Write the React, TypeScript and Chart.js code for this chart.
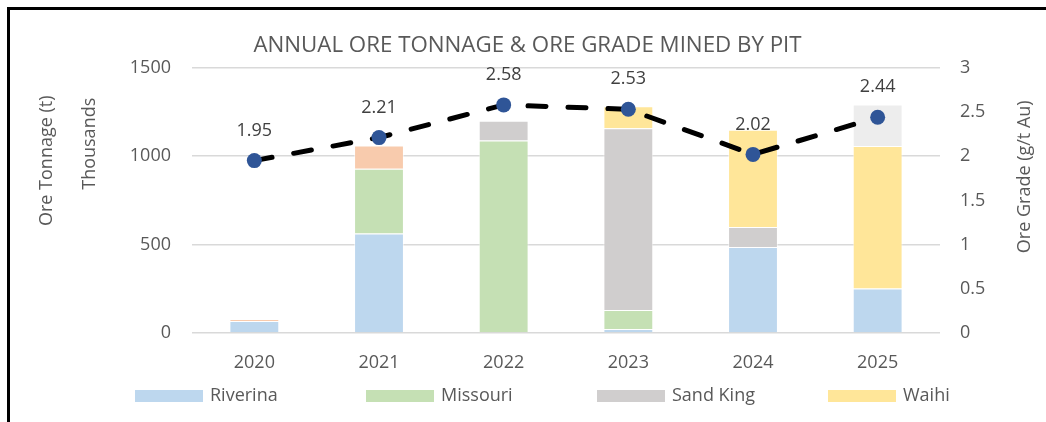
import React, { useEffect, useRef } from "react";
import { Chart, registerables } from "chart.js";
Chart.register(...registerables);

const years = ["2020", "2021", "2022", "2023", "2024", "2025"];
const riverina = [68, 562, 0, 22, 487, 252];
const missouri = [0, 367, 1088, 108, 0, 0];
const sandKing = [0, 0, 113, 1028, 113, 0];
const waihi = [0, 0, 0, 124, 549, 805];
const otherA = [11, 131, 0, 0, 0, 0];
const otherB = [0, 0, 0, 0, 0, 235];
const oreGrade = [1.95, 2.21, 2.58, 2.53, 2.02, 2.44];
const legendNames = ["Riverina", "Missouri", "Sand King", "Waihi"];
const titleText = "ANNUAL ORE TONNAGE & ORE GRADE MINED BY PIT";
const leftTitle = "Ore Tonnage (t)";
const leftUnit = "Thousands";
const rightTitle = "Ore Grade (g/t Au)";

const FONT = "'Open Sans', sans-serif";
const TXT = "#595959";

const gradeLabels = {
  id: "gradeLabels",
  afterDatasetsDraw(chart: any) {
    const idx = chart.data.datasets.findIndex((d: any) => d.type === "line");
    const meta = chart.getDatasetMeta(idx);
    const ctx = chart.ctx;
    ctx.save();
    ctx.font = `18px ${FONT}`;
    ctx.fillStyle = "#404040";
    ctx.textAlign = "center";
    ctx.textBaseline = "middle";
    meta.data.forEach((el: any, i: number) => {
      ctx.fillText(oreGrade[i].toFixed(2), el.x, el.y - 30);
    });
    ctx.restore();
  },
};

const fixedLegend = {
  id: "fixedLegend",
  afterDraw(chart: any) {
    const { ctx, chartArea } = chart;
    const y = chartArea.bottom + 63;
    const start = chartArea.left - 57;
    const spacing = 231;
    ctx.save();
    ctx.font = `18px ${FONT}`;
    ctx.textBaseline = "middle";
    ctx.textAlign = "left";
    legendNames.forEach((name, i) => {
      const ds = chart.data.datasets[i];
      const x = start + i * spacing;
      ctx.fillStyle = ds.backgroundColor;
      ctx.fillRect(x, y - 6, 68, 12);
      ctx.fillStyle = TXT;
      ctx.fillText(name, x + 75, y);
    });
    ctx.restore();
  },
};

const axisTitles = {
  id: "axisTitles",
  afterDraw(chart: any) {
    const { ctx, chartArea } = chart;
    ctx.save();
    ctx.font = `18px ${FONT}`;
    ctx.fillStyle = TXT;
    ctx.textAlign = "center";
    ctx.textBaseline = "middle";
    const draw = (t: string, x: number, y: number) => {
      ctx.save();
      ctx.translate(x, y);
      ctx.rotate(-Math.PI / 2);
      ctx.fillText(t, 0, 0);
      ctx.restore();
    };
    draw(leftTitle, chartArea.left - 145, chartArea.top + 93);
    draw(leftUnit, chartArea.left - 102, chartArea.top + 76);
    draw(rightTitle, chartArea.right + 85, chartArea.top + 109);
    ctx.restore();
  },
};

export default function App() {
  const ref = useRef<HTMLCanvasElement | null>(null);
  useEffect(() => {
    if (!ref.current) return;
    const barDs = (label: string, data: number[], color: string) => ({
      type: "bar" as const,
      label,
      data,
      backgroundColor: color,
      borderColor: "rgba(255,255,255,0.55)",
      borderWidth: 1,
      barPercentage: 0.4,
      categoryPercentage: 1,
      yAxisID: "y",
      order: 1,
    });
    const chart = new Chart(ref.current, {
      type: "bar",
      data: {
        labels: years,
        datasets: [
          barDs("Riverina", riverina, "#BDD7EE"),
          barDs("Missouri", missouri, "#C5E0B4"),
          barDs("Sand King", sandKing, "#D0CECE"),
          barDs("Waihi", waihi, "#FFE699"),
          barDs("Other A", otherA, "#F8CBAD"),
          barDs("Other B", otherB, "#EDEDED"),
          {
            type: "line" as const,
            label: "Ore Grade",
            data: oreGrade,
            yAxisID: "y1",
            borderColor: "#000000",
            borderWidth: 5,
            borderDash: [18, 22],
            borderCapStyle: "round",
            pointRadius: 7.5,
            pointBackgroundColor: "#2F5597",
            pointBorderWidth: 0,
            tension: 0,
            order: -1,
          } as any,
        ],
      },
      options: {
        animation: false,
        responsive: false,
        layout: { padding: { left: 0, right: 0, top: 0, bottom: 39 } },
        plugins: {
          legend: { display: false },
          tooltip: { enabled: false },
          title: {
            display: true,
            text: titleText,
            color: TXT,
            font: { family: FONT, size: 22.3, weight: "normal" },
            padding: { top: 22, bottom: 9 },
          },
        },
        scales: {
          x: {
            stacked: true,
            grid: { display: false, drawTicks: false },
            border: { display: false },
            ticks: { color: TXT, font: { family: FONT, size: 18 }, padding: 19 },
            afterFit: (s: any) => {
              s.height = 38;
            },
          },
          y: {
            stacked: true,
            position: "left",
            min: 0,
            max: 1500,
            grid: { color: "#D9D9D9", lineWidth: 1.5, drawTicks: false },
            border: { display: false },
            ticks: {
              stepSize: 500,
              color: TXT,
              font: { family: FONT, size: 18 },
              padding: 21,
              callback: (v: any) => String(v),
            },
            afterFit: (s: any) => {
              s.width = 182;
            },
          },
          y1: {
            position: "right",
            min: 0,
            max: 3,
            grid: { drawOnChartArea: false, drawTicks: false },
            border: { display: false },
            ticks: {
              stepSize: 0.5,
              color: TXT,
              font: { family: FONT, size: 18 },
              padding: 20,
              callback: (v: any) => String(v),
            },
            afterFit: (s: any) => {
              s.width = 105;
            },
          },
        },
      } as any,
      plugins: [gradeLabels, fixedLegend, axisTitles],
    });
    return () => chart.destroy();
  }, []);

  return (
    <div
      style={{
        position: "fixed",
        left: 7,
        top: 7,
        width: 1045,
        height: 420,
        boxSizing: "border-box",
        borderTop: "3px solid #000",
        borderLeft: "3px solid #000",
      }}
    >
      <canvas ref={ref} width={1035} height={400} style={{ display: "block" }} />
    </div>
  );
}
